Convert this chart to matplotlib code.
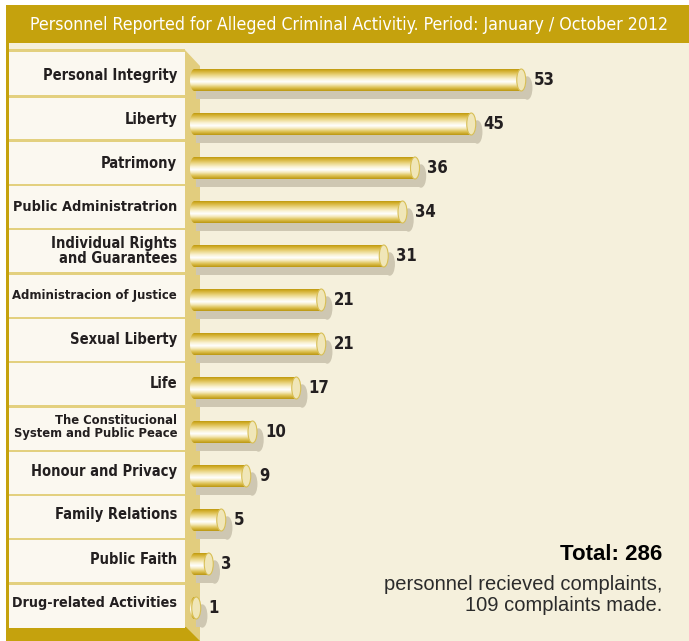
import numpy as np
import matplotlib
matplotlib.use('Agg')
from matplotlib import pyplot as plt
from matplotlib import font_manager
from matplotlib.patches import Rectangle, Polygon, Ellipse, PathPatch
from matplotlib.path import Path
from matplotlib.colors import LinearSegmentedColormap
from matplotlib.transforms import offset_copy

# data
categories = ['Personal Integrity', 'Liberty', 'Patrimony', 'Public Administratrion',
              'Individual Rights\nand Guarantees', 'Administracion of Justice',
              'Sexual Liberty', 'Life', 'The Constitucional\nSystem and Public Peace',
              'Honour and Privacy', 'Family Relations', 'Public Faith',
              'Drug-related Activities']
values = [53, 45, 36, 34, 31, 21, 21, 17, 10, 9, 5, 3, 1]
title = 'Personnel Reported for Alleged Criminal Activitiy. Period: January / October 2012'
total_title = 'Total: 286'
total_note = 'personnel recieved complaints,\n109 complaints made.'

# look for a condensed face, otherwise fall back to Liberation Sans
cond = [f for f in font_manager.fontManager.ttflist
        if ('condensed' in str(f.stretch) or 'Narrow' in f.name or 'Condensed' in f.name
            or 'Condensed' in f.fname or 'Narrow' in f.fname or 'Cond' in f.fname)]

def weight_num(f):
    w = f.weight
    if isinstance(w, str):
        w = font_manager.weight_dict.get(w, 400)
    return w

def pick(bold):
    best = None
    for f in cond:
        if f.style != 'normal' or 'Italic' in f.fname:
            continue
        w = weight_num(f)
        if bold and w >= 600:
            return font_manager.FontProperties(fname=f.fname)
        if not bold and w < 600:
            if best is None or abs(w - 400) < abs(weight_num(best) - 400):
                best = f
    return font_manager.FontProperties(fname=best.fname) if best is not None else None

cond_bold = pick(True)
cond_reg = pick(False)

def fp(bold, size):
    p = cond_bold if bold else cond_reg
    if p is None:
        p = font_manager.FontProperties(family='Liberation Sans',
                                        weight='bold' if bold else 'normal')
    p = p.copy()
    p.set_size(size)
    return p

gold = '#C5A20D'
cream = '#F5F0DC'
panel = '#FBF8F0'
line_gold = '#E3D07F'
side = '#E2CD7E'
shadow = '#CEC7B2'
dark = '#231F20'

W, H = 689, 641
fig = plt.figure(figsize=(W / 100, H / 100), dpi=100)
fig.patch.set_facecolor('white')

# background in pixel coordinates
bg = fig.add_axes([0, 0, 1, 1])
bg.set_xlim(0, W)
bg.set_ylim(H, 0)
bg.axis('off')
bg.add_patch(Rectangle((6, 5), W - 6, H - 5, color=cream, lw=0))
bg.add_patch(Rectangle((6, 5), W - 6, 38, color=gold, lw=0))
bg.add_patch(Rectangle((6, 5), 3, H - 5, color=gold, lw=0))
# side 3d strip and bottom band
bg.add_patch(Polygon([(185, 50), (200, 66), (200, H), (185, H)], closed=True, color=side, lw=0))
bg.add_patch(Polygon([(9, 627), (186, 627), (200, H), (9, H)], closed=True, color=gold, lw=0))
# label panel rows
row_top, row_h = 52, 44.3
bg.add_patch(Rectangle((9, 49), 176, 3, color=line_gold, lw=0))
for i in range(len(categories)):
    y0 = row_top + i * row_h
    bg.add_patch(Rectangle((9, y0), 176, row_h, facecolor=panel, edgecolor='none'))
    if i > 0:
        bg.add_patch(Rectangle((9, y0 - 1.2), 176, 2.4, color=line_gold, lw=0))

t = bg.text(349, 25, title, color='white', ha='center', va='center',
            fontproperties=fp(False, 18))
fig.canvas.draw()
wpx = t.get_window_extent().width
t.set_fontsize(min(21, 18 * 638 / wpx))

bg.text(662, 554, total_title, ha='right', va='center', family='Liberation Sans',
        fontweight='bold', fontsize=16, color='black')
bg.text(662, 595, total_note, ha='right', va='center', family='Liberation Sans',
        fontsize=14.5, color='#2b2b2b', linespacing=1.15)

# bar axes: 6.25 px per unit, rows 44 px apart
scale = 6.25
ax = fig.add_axes([190 / W, 1 - 630 / H, (W - 190) / W, 572 / H])
ax.set_xlim(0, (W - 190) / scale)
ax.set_ylim(len(categories) - 0.5, -0.5)
ax.axis('off')

cmap = LinearSegmentedColormap.from_list('cyl', [
    (0.0, '#BF9A10'), (0.08, '#D2AE2C'), (0.25, '#E8D178'), (0.45, '#FAF3D6'),
    (0.58, '#FFFFFF'), (0.7, '#F5EABD'), (0.86, '#DCBF4E'), (1.0, '#BC9812')])
grad = np.linspace(0, 1, 64).reshape(-1, 1)

h = 0.5
cw = 9 / scale
sh_tr = offset_copy(ax.transData, fig=fig, x=6, y=-8, units='dots')
lab_tr = offset_copy(ax.transData, fig=fig, x=-13, y=5, units='dots')
val_tr = offset_copy(ax.transData, fig=fig, x=8, y=0, units='dots')

labels = []
for i, (cat, v) in enumerate(zip(categories, values)):
    # shadow
    ax.barh(i, v, height=h, left=0, color=shadow, transform=sh_tr, zorder=1)
    ax.add_patch(Ellipse((v, i), cw, h, color=shadow, transform=sh_tr, zorder=1))
    # cylinder body
    a, b = cw / 2, h / 2
    th = np.linspace(-np.pi / 2, np.pi / 2, 30)
    xs = np.concatenate([a - a * np.cos(th), [v, v]])
    ys = np.concatenate([i + b * np.sin(th), [i + b, i - b]])
    clip = PathPatch(Path(np.column_stack([xs, ys]), closed=False), transform=ax.transData,
                     facecolor='none', edgecolor='none')
    ax.add_patch(clip)
    im = ax.imshow(grad, extent=(0, v, i + b, i - b), aspect='auto', cmap=cmap,
                   origin='upper', zorder=2, interpolation='bilinear')
    im.set_clip_path(clip)
    ax.add_patch(Ellipse((v, i), cw, h, facecolor='#F0E6B8', edgecolor='#D8BF55',
                         lw=0.8, zorder=3))
    ax.text(v + a, i, str(v), transform=val_tr, ha='left', va='center',
            fontproperties=fp(True, 12), color=dark)
    labels.append(ax.text(0, i, cat, transform=lab_tr, ha='right', va='center',
                          fontproperties=fp(True, 10.5), color=dark, linespacing=0.95,
                          clip_on=False))

# keep labels inside the panel
fig.canvas.draw()
for lab in labels:
    w = lab.get_window_extent().width
    if w > 165:
        lab.set_fontsize(lab.get_fontsize() * 165 / w)

fig.savefig('out.png', dpi=100, facecolor=fig.get_facecolor())
